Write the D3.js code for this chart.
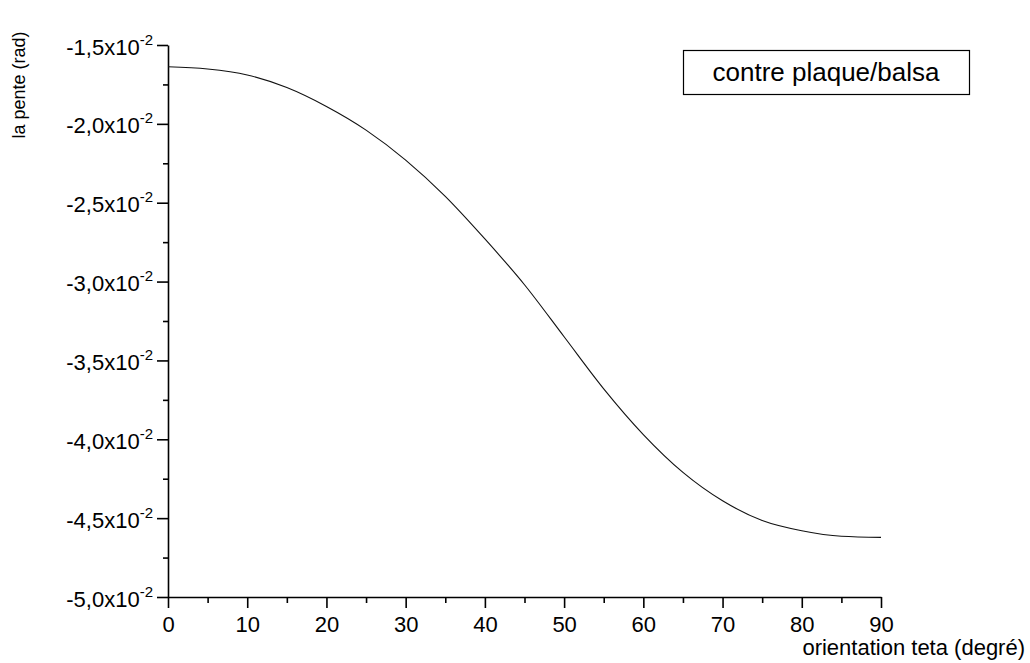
<!DOCTYPE html>
<html>
<head>
<meta charset="utf-8">
<script src="https://cdn.jsdelivr.net/npm/d3@7"></script>
<style>
  html, body { margin: 0; padding: 0; background: #fff; }
  svg { display: block; font-family: "Liberation Sans", Arial, sans-serif; }
</style>
</head>
<body>
<svg id="chart" width="1030" height="663"></svg>
<script>
// Slope (in units of 1e-2 rad) versus fibre orientation theta (degrees)
const thetaDeg = [0, 5, 10, 15, 20, 25, 30, 35, 40, 45, 50, 55, 60, 65, 70, 75, 80, 85, 90];
const slope    = [-1.638, -1.652, -1.69, -1.77, -1.89, -2.04, -2.23, -2.46, -2.73, -3.02,
                  -3.35, -3.68, -3.97, -4.21, -4.39, -4.515, -4.58, -4.615, -4.622];

const xTicks = [0, 10, 20, 30, 40, 50, 60, 70, 80, 90];
const xMinor = [5, 15, 25, 35, 45, 55, 65, 75, 85];
const yTicks = [-1.5, -2.0, -2.5, -3.0, -3.5, -4.0, -4.5, -5.0];
const yMinor = [-1.75, -2.25, -2.75, -3.25, -3.75, -4.25, -4.75];
const yTickText = ["-1,5", "-2,0", "-2,5", "-3,0", "-3,5", "-4,0", "-4,5", "-5,0"];

const seriesName = "contre plaque/balsa";
const xTitle = "orientation teta (degré)";
const yTitle = "la pente (rad)";

const svg = d3.select("#chart");
const plotLeft = 168, plotRight = 881, plotTop = 45, plotBottom = 597;

const x = d3.scaleLinear().domain([0, 90]).range([plotLeft, plotRight]);
const y = d3.scaleLinear().domain([-5.0, -1.5]).range([plotBottom, plotTop]);

const tickFont = 22;

// x axis: major + minor ticks
const gx = svg.append("g").attr("transform", `translate(0,${plotBottom})`);
gx.call(d3.axisBottom(x).tickValues(xTicks).tickSize(11).tickSizeOuter(0).tickFormat(""));
const gxm = svg.append("g").attr("transform", `translate(0,${plotBottom})`);
gxm.call(d3.axisBottom(x).tickValues(xMinor).tickSize(6).tickSizeOuter(0).tickFormat(""));
gxm.select(".domain").remove();

gx.selectAll(".tick").append("text")
  .attr("y", 35)
  .attr("fill", "#000")
  .attr("text-anchor", "middle")
  .style("font-size", tickFont + "px")
  .text(d => d);

// y axis: major + minor ticks
const gy = svg.append("g").attr("transform", `translate(${plotLeft},0)`);
gy.call(d3.axisLeft(y).tickValues(yTicks).tickSize(11).tickSizeOuter(0).tickFormat(""));
const gym = svg.append("g").attr("transform", `translate(${plotLeft},0)`);
gym.call(d3.axisLeft(y).tickValues(yMinor).tickSize(5).tickSizeOuter(0).tickFormat(""));
gym.select(".domain").remove();

const lab = gy.selectAll(".tick").append("text")
  .attr("x", -15)
  .attr("y", 9)
  .attr("fill", "#000")
  .attr("text-anchor", "end")
  .style("font-size", tickFont + "px");
lab.append("tspan").text((d, i) => yTickText[i] + "x10");
lab.append("tspan").attr("dy", -10).style("font-size", "15px").text("-2");

svg.selectAll(".domain, .tick line").attr("stroke", "#000").attr("stroke-width", 1.6);

// curve
const line = d3.line()
  .x((d, i) => x(thetaDeg[i]))
  .y(d => y(d))
  .curve(d3.curveMonotoneX);

svg.append("path")
  .datum(slope)
  .attr("fill", "none")
  .attr("stroke", "#111")
  .attr("stroke-width", 1.1)
  .attr("d", line);

// legend box
svg.append("rect")
  .attr("x", 683.5).attr("y", 50.5)
  .attr("width", 286).attr("height", 44)
  .attr("fill", "none").attr("stroke", "#000").attr("stroke-width", 1.2);
svg.append("text")
  .attr("x", 826).attr("y", 81)
  .attr("text-anchor", "middle")
  .style("font-size", "26px")
  .text(seriesName);

// axis titles
svg.append("text")
  .attr("x", 1025).attr("y", 655)
  .attr("text-anchor", "end")
  .style("font-size", "22px")
  .text(xTitle);

svg.append("text")
  .attr("transform", "translate(25,85) rotate(-90)")
  .attr("text-anchor", "middle")
  .style("font-size", "18px")
  .text(yTitle);
</script>
</body>
</html>
